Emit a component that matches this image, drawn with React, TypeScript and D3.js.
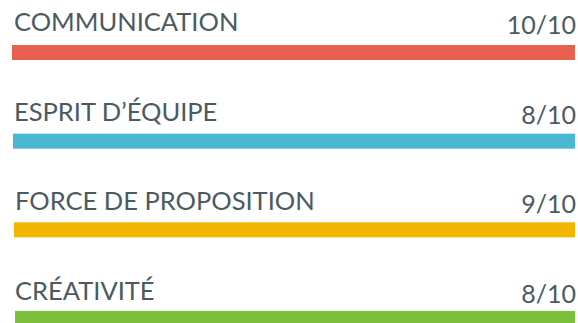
import React from 'react';
import * as d3 from 'd3';

const skills = ['COMMUNICATION', 'ESPRIT D\u2019ÉQUIPE', 'FORCE DE PROPOSITION', 'CRÉATIVITÉ'];
const scores = [10, 8, 9, 8];
const maxScore = 10;
const colors = ['#e8604f', '#4ab8d3', '#f2b500', '#7bbf3a'];

const W = 578;
const H = 323;

const App = () => {
  const idx = d3.range(skills.length);
  // positions des lignes
  const textY = d3.scaleLinear().domain([0, 3]).range([31, 300]);
  const barY = d3.scaleLinear().domain([0, 3]).range([45, 311]);
  const barX = d3.scaleLinear().domain([0, 3]).range([12, 15]);
  const font = "Lato, 'Open Sans', sans-serif";

  return (
    <svg width={W} height={H} style={{ position: 'absolute', left: 0, top: 0, background: '#fff' }}>
      {idx.map(i => (
        <g key={i}>
          <text x={i < 2 ? 14 : 15} y={textY(i)} fontFamily={font} fontSize={25.5} fill="#4a5a63">
            {skills[i]}
          </text>
          <text x={576} y={textY(i) + 3} textAnchor="end" fontFamily={font} fontSize={25} fill="#4a5a63">
            {scores[i]}/{maxScore}
          </text>
          <rect x={barX(i)} y={barY(i)} width={575 - barX(i)} height={15} fill={colors[i]} />
        </g>
      ))}
    </svg>
  );
};

export default App;
